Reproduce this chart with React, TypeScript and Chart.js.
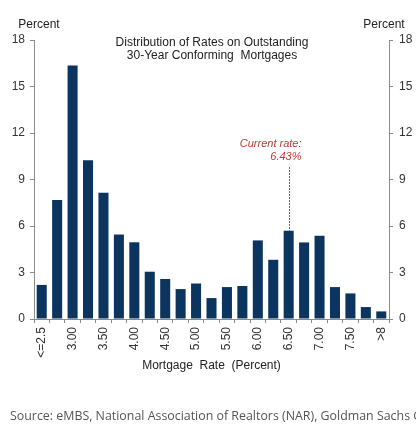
import React, { useEffect, useRef } from "react";
import { Chart, registerables } from "chart.js";

Chart.register(...registerables);

// Mortgage rate buckets (percent)
const rateBuckets = [
  "<=2.5", "2.75", "3.00", "3.25", "3.50", "3.75", "4.00", "4.25", "4.50", "4.75",
  "5.00", "5.25", "5.50", "5.75", "6.00", "6.25", "6.50", "6.75", "7.00", "7.25",
  "7.50", "7.75", ">8",
];

// Share of outstanding 30-year conforming mortgages in each bucket (percent)
const shareOfMortgages = [
  2.2, 7.68, 16.35, 10.25, 8.15, 5.45, 4.95, 3.05, 2.58, 1.93,
  2.29, 1.35, 2.06, 2.13, 5.07, 3.82, 5.69, 4.94, 5.37, 2.06,
  1.65, 0.77, 0.49,
];

const yTicks = [0, 3, 6, 9, 12, 15, 18];
const currentRateLabel = "6.43%";
const currentRateBucket = 16; // "6.50" bucket

const titleLines = ["Distribution of Rates on Outstanding", "30-Year Conforming  Mortgages"];
const xTitle = "Mortgage  Rate  (Percent)";
const sourceText = "Source: eMBS, National Association of Realtors (NAR), Goldman Sachs Global Investment Research";

const AXIS_GRAY = "#8a8a8a";
const TEXT = "#333333";
const BAR = "#0b355f";
const RED = "#c0393b";
const FONT = "'Liberation Sans', Arial, sans-serif";

const overlayText = {
  id: "overlayText",
  afterDraw(chart: any) {
    const { ctx, scales } = chart;
    const x = scales.x;
    const y = scales.y;
    ctx.save();
    ctx.fillStyle = "#222";
    ctx.textBaseline = "middle";
    ctx.font = `12px ${FONT}`;
    ctx.textAlign = "center";
    ctx.fillText("Percent", 39, 25);
    ctx.fillText("Percent", 384, 25);
    ctx.fillText(titleLines[0], 212, 43);
    ctx.fillText(titleLines[1], 212, 56);
    ctx.fillText(xTitle, (chart.chartArea.left + chart.chartArea.right) / 2, 366);

    // current-rate marker
    const px = Math.round(x.getPixelForValue(currentRateBucket)) + 0.5;
    const top = y.getPixelForValue(shareOfMortgages[currentRateBucket]);
    ctx.strokeStyle = RED;
    ctx.lineWidth = 1;
    ctx.setLineDash([2, 1]);
    ctx.beginPath();
    ctx.moveTo(px, 167);
    ctx.lineTo(px, top);
    ctx.stroke();
    ctx.setLineDash([]);
    ctx.fillStyle = RED;
    ctx.textAlign = "right";
    ctx.font = `italic 11px ${FONT}`;
    ctx.fillText("Current rate:", px + 12, 144);
    ctx.fillText(currentRateLabel, px + 12, 157);

    // source line
    ctx.fillStyle = "#555";
    ctx.textAlign = "left";
    ctx.font = `12.4px 'Open Sans', 'Noto Sans', sans-serif`;
    ctx.fillText(sourceText, 10, 416);
    ctx.restore();
  },
};

export default function App() {
  const ref = useRef<HTMLCanvasElement>(null);

  useEffect(() => {
    if (!ref.current) return;
    const yScale = (position: "left" | "right", width: number) => ({
      position,
      min: 0,
      max: 18,
      afterBuildTicks: (s: any) => {
        s.ticks = yTicks.map((v) => ({ value: v }));
      },
      afterFit: (s: any) => {
        s.width = width;
      },
      border: { display: true, color: AXIS_GRAY, width: 1 },
      grid: { drawOnChartArea: false, drawTicks: true, tickLength: 4, color: AXIS_GRAY },
      ticks: { color: TEXT, font: { family: FONT, size: 12 }, padding: position === "left" ? 5 : 6 },
    });

    const chart = new Chart(ref.current, {
      type: "bar",
      data: {
        labels: rateBuckets,
        datasets: [
          {
            data: shareOfMortgages,
            backgroundColor: BAR,
            barPercentage: 0.65,
            categoryPercentage: 1,
            yAxisID: "y",
          },
        ],
      },
      options: {
        responsive: false,
        animation: false,
        layout: { padding: { top: 40, left: 0, right: 0, bottom: 0 } },
        plugins: { legend: { display: false }, title: { display: false }, tooltip: { enabled: false } },
        scales: {
          x: {
            offset: true,
            afterFit: (s: any) => {
              s.height = 119;
            },
            border: { display: true, color: AXIS_GRAY, width: 1 },
            grid: { offset: true, drawOnChartArea: false, drawTicks: true, tickLength: 4, color: AXIS_GRAY },
            ticks: {
              autoSkip: false,
              maxRotation: 90,
              minRotation: 90,
              padding: 4,
              color: TEXT,
              font: { family: FONT, size: 12 },
              callback: (_v: any, i: number) => (i % 2 === 0 ? rateBuckets[i] : ""),
            },
          },
          y: yScale("left", 34) as any,
          y2: yScale("right", 27) as any,
        },
      },
      plugins: [overlayText],
    });
    return () => chart.destroy();
  }, []);

  return (
    <div style={{ position: "fixed", left: 0, top: 0, width: 416, height: 438, background: "#fff", overflow: "hidden" }}>
      <canvas ref={ref} width={416} height={438} style={{ width: 416, height: 438, display: "block" }} />
    </div>
  );
}
